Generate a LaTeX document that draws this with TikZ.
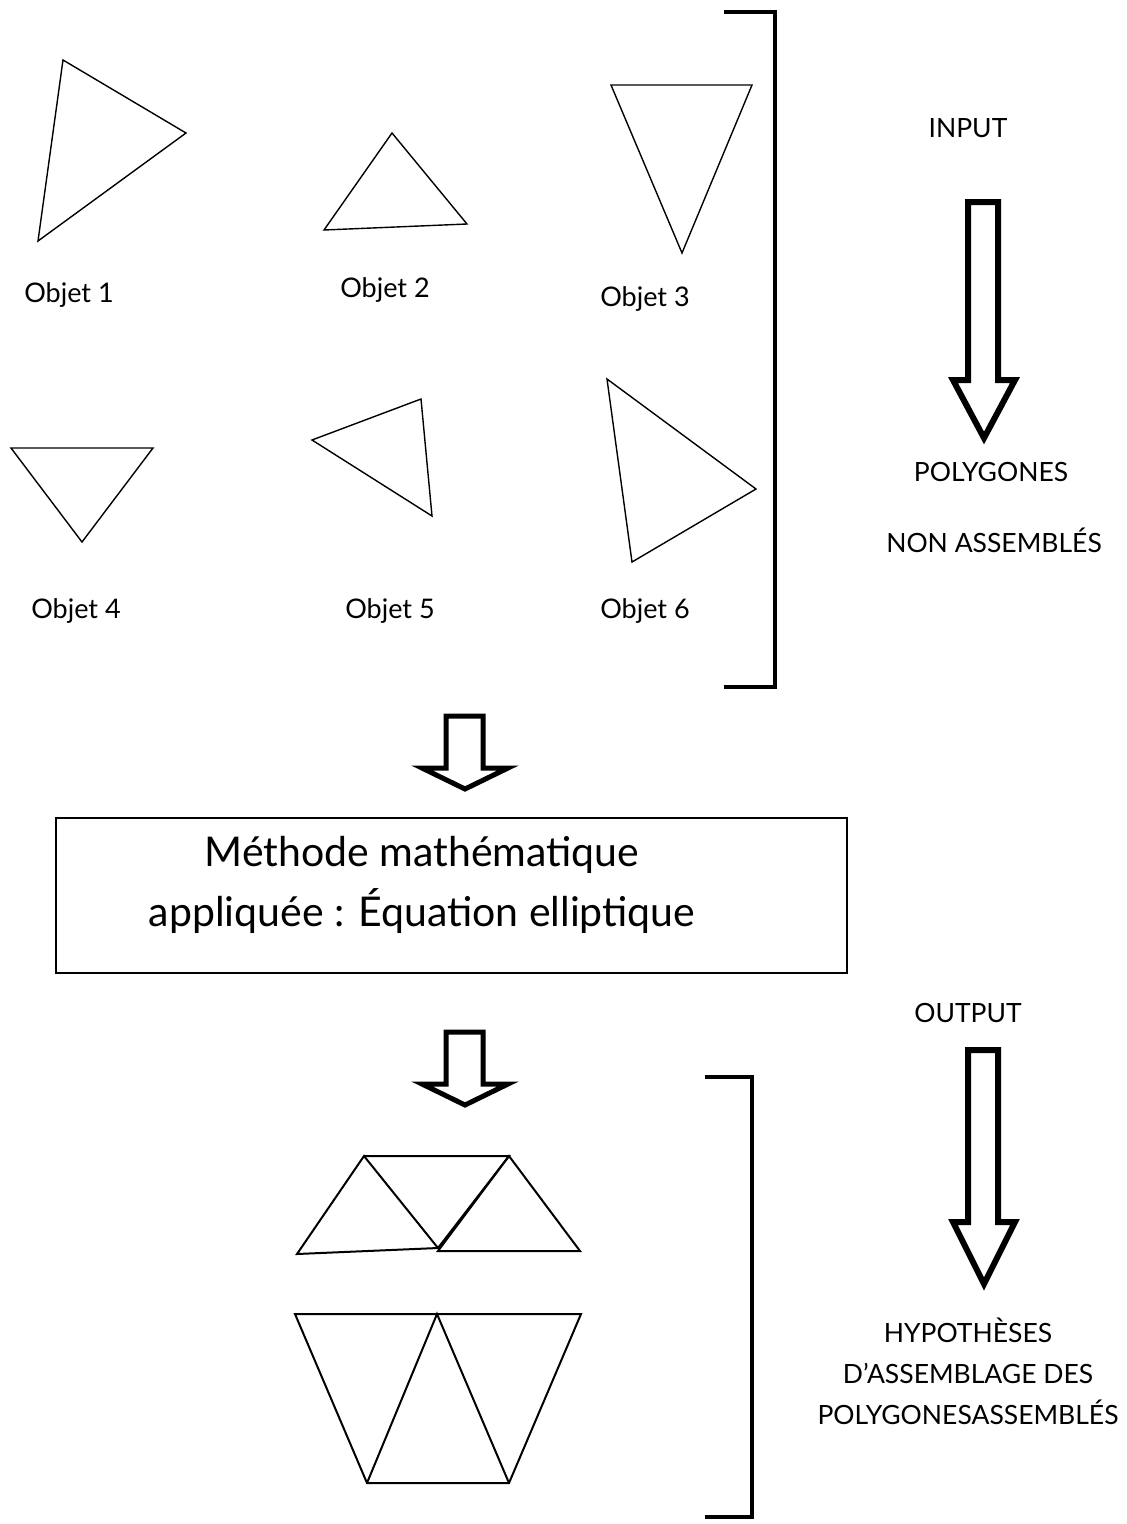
\documentclass[tikz,border=0pt]{standalone}
\usepackage{fontspec}
\setmainfont{Lato}
\begin{document}
\begin{tikzpicture}[x=1pt,y=-1pt,
  tri/.style={draw=black, line width=1.4pt, line join=miter},
  asm/.style={draw=black, line width=2pt, line join=miter},
  brk/.style={draw=black, line width=4pt},
  blockarrow/.style={draw=black, line width=6pt, line join=miter, fill=white},
  smallarrow/.style={draw=black, line width=5pt, line join=miter, fill=white},
  lbl/.style={font=\fontsize{27}{32}\selectfont, inner sep=0pt},
  capl/.style={font=\fontsize{26.5}{41}\selectfont, inner sep=0pt, align=center},
  bigtext/.style={font=\fontsize{41}{60}\selectfont, inner sep=0pt, align=center}]
\useasboundingbox (0,0) rectangle (1127,1524);

% input triangles
\draw[tri] (63,60) -- (186,133) -- (38,241) -- cycle;
\draw[tri] (392,133) -- (467,224) -- (324,230) -- cycle;
\draw[tri] (611,85) -- (752,85) -- (682,253) -- cycle;
\draw[tri] (11,448) -- (153,448) -- (82,542) -- cycle;
\draw[tri] (312,440) -- (421,399) -- (432,516) -- cycle;
\draw[tri] (607,379) -- (756,489) -- (632,562) -- cycle;

% labels
\node[lbl] (o1) at (69,295) {Objet 1};
\node[lbl] (o2) at (385,290) {Objet 2};
\node[lbl] (o3) at (645,299) {Objet 3};
\node[lbl] (o4) at (76,611) {Objet 4};
\node[lbl] (o5) at (390,611) {Objet 5};
\node[lbl] (o6) at (645,611) {Objet 6};

% bracket 1
\draw[brk] (724,12) -- (775,12) -- (775,687) -- (724,687);

% input side
\node[capl] (input) at (968,128) {INPUT};
\draw[blockarrow] (968,202) -- (998,202) -- (998,380) -- (1015,380) -- (984,438) -- (953,380) -- (968,380) -- cycle;
\node[capl] (poly) at (991,472) {POLYGONES};
\node[capl] (nonass) at (994,540) {NON ASSEMBLÉS};

% small arrow 1
\draw[smallarrow] (446,716) -- (483,716) -- (483,768) -- (508,768) -- (465,789) -- (422,768) -- (446,768) -- cycle;

% method box
\node[draw=black, line width=1.5pt, minimum width=791pt, minimum height=155pt, inner sep=0pt] (box) at (451.5,895.5) {};
\node[bigtext] (method) at (422,885) {Méthode mathématique\\appliquée : Équation elliptique};

% small arrow 2
\draw[smallarrow] (446,1032) -- (483,1032) -- (483,1084) -- (508,1084) -- (465,1105) -- (422,1084) -- (446,1084) -- cycle;

% output side
\node[capl] (output) at (968,1013) {OUTPUT};
\draw[blockarrow] (968,1050) -- (998,1050) -- (998,1222) -- (1015,1222) -- (984,1284) -- (953,1222) -- (968,1222) -- cycle;
\node[capl] (hyp) at (968,1371) {HYPOTHÈSES\\D’ASSEMBLAGE DES\\POLYGONESASSEMBLÉS};

% bracket 2
\draw[brk] (705,1077) -- (752,1077) -- (752,1517) -- (705,1517);

% assembled polygons, top row
\draw[asm] (364,1156) -- (297,1254) -- (438,1248) -- cycle;
\draw[asm] (364,1156) -- (509,1156) -- (438,1248);
\draw[asm] (509,1156) -- (580,1251) -- (438,1251) -- cycle;

% assembled polygons, bottom row
\draw[asm] (295,1314) -- (581,1314) -- (509,1483) -- (367,1483) -- cycle;
\draw[asm] (367,1483) -- (437,1314) -- (509,1483);
\end{tikzpicture}
\end{document}
